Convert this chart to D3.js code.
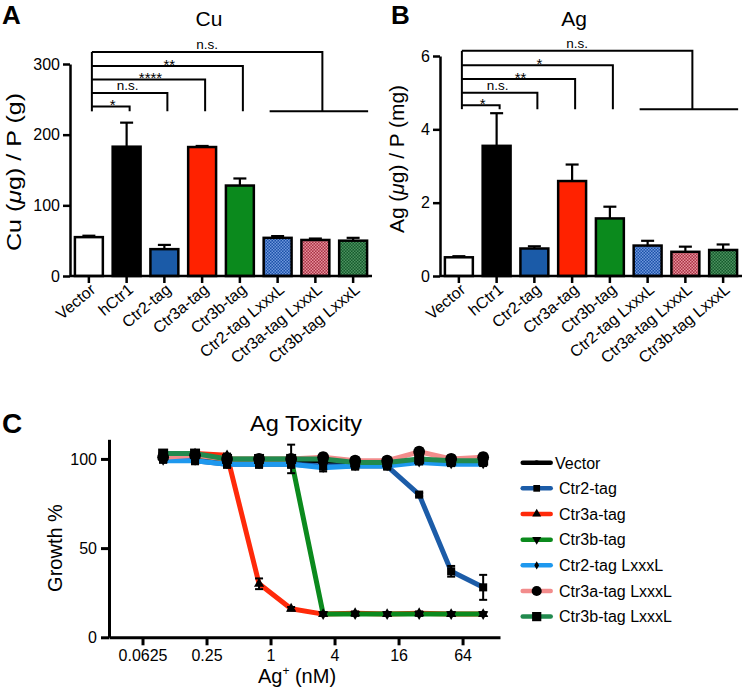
<!DOCTYPE html>
<html><head><meta charset="utf-8">
<script src="https://cdn.jsdelivr.net/npm/d3@7"></script>
<style>
body{margin:0;background:#fff}
text{font-family:"Liberation Sans",Arial,Helvetica,sans-serif;fill:#000}
</style>
</head><body>
<svg id="chart" width="745" height="690"></svg>
<script>
// ---------------- DATA ----------------
const categories = ["Vector","hCtr1","Ctr2-tag","Ctr3a-tag","Ctr3b-tag","Ctr2-tag LxxxL","Ctr3a-tag LxxxL","Ctr3b-tag LxxxL"];
const cuMean = [55, 183, 38, 182.5, 128, 54, 51, 50];
const cuErr  = [2, 34, 6, 1.5, 10, 2.5, 2, 4];
const agMean = [0.51, 3.55, 0.75, 2.59, 1.57, 0.83, 0.66, 0.71];
const agErr  = [0.03, 0.89, 0.06, 0.45, 0.32, 0.13, 0.14, 0.15];
const cuTicks = [0, 100, 200, 300];
const agTicks = [0, 2, 4, 6];
const cuSigLabels = ["*", "n.s.", "****", "**", "n.s."];
const agSigLabels = ["*", "n.s.", "**", "*", "n.s."];
const cuSigLevels = [240, 259, 278, 297, 317];
const agSigLevels = [4.66, 5.0, 5.37, 5.75, 6.14];
const cuSigBase = 233;
const agSigBase = 4.55;

const agConc = [0.0977, 0.195, 0.39, 0.78, 1.5625, 3.125, 6.25, 12.5, 25, 50, 100];
const concTicks = [0.0625, 0.25, 1, 4, 16, 64];
const concTickLabels = ["0.0625", "0.25", "1", "4", "16", "64"];
const growthTicks = [0, 50, 100];
const toxNames = ["Vector","Ctr2-tag","Ctr3a-tag","Ctr3b-tag","Ctr2-tag LxxxL","Ctr3a-tag LxxxL","Ctr3b-tag LxxxL"];
const growthVector   = [100, 101, 98, 99, 99, 99, 97, 97, 99, 98, 99];
const growthCtr2     = [100, 99, 97, 97, 97, 96, 96, 96, 80, 37, 28];
const growthCtr3a    = [101, 103, 102, 30, 16, 13, 13.5, 13, 13.5, 13, 13];
const growthCtr3b    = [102, 102, 100, 100, 100, 13, 13, 13, 13, 13, 13];
const growthCtr2L    = [99, 99, 97, 97, 97, 95, 96, 96, 98, 97, 97];
const growthCtr3aL   = [101, 102, 100, 100, 100, 101, 99, 99, 104, 100, 101];
const growthCtr3bL   = [103, 103, 100, 100, 100, 100, 98, 98, 100, 99, 99];
const errVector  = [2, 2, 2, 2, 2, 2, 2, 2, 2, 2, 2];
const errCtr2    = [2, 2, 2, 2, 2, 2, 2, 2, 1, 3, 7];
const errCtr3a   = [1, 1, 1, 3, 1, 1, 1, 1, 1, 1, 1];
const errCtr3b   = [1, 1, 2, 2, 8, 1, 1, 1, 1, 1, 1];
const errCtr2L   = [1, 1, 1, 1, 1, 2, 1, 1, 1, 1, 1];
const errCtr3aL  = [2, 2, 2, 2, 2, 2, 2, 2, 2, 2, 2];
const errCtr3bL  = [2, 2, 2, 2, 2, 2, 2, 2, 2, 2, 2];
const growthData = [growthVector, growthCtr2, growthCtr3a, growthCtr3b, growthCtr2L, growthCtr3aL, growthCtr3bL];
const growthErr  = [errVector, errCtr2, errCtr3a, errCtr3b, errCtr2L, errCtr3aL, errCtr3bL];

// ---------------- STYLES ----------------
const barFill = ["#ffffff","#000000","#1b5ba8","#ff2200","#0b8a1d","url(#patBlue)","url(#patRed)","url(#patGreen)"];
const lineColors = ["#000000","#1c5ca8","#ff2a0a","#0b8a1d","#1e98ee","#f28c8c","#218a4e"];
const markerType = ["circle","square","triUp","triDown","diamond","circle","square"];
const markerSize = [45, 65, 45, 45, 30, 110, 100];
const legendSize = [18, 45, 35, 35, 20, 80, 85];

const svg = d3.select("#chart");
const defs = svg.append("defs");
function pattern(id, base, light) {
  const p = defs.append("pattern").attr("id", id).attr("width", 3).attr("height", 3)
    .attr("patternUnits", "userSpaceOnUse");
  p.append("rect").attr("width", 3).attr("height", 3).attr("fill", base);
  p.append("rect").attr("width", 1.5).attr("height", 1.5).attr("fill", light);
  p.append("rect").attr("x", 1.5).attr("y", 1.5).attr("width", 1.5).attr("height", 1.5).attr("fill", light);
}
pattern("patBlue", "#1a50a8", "#6f98dc");
pattern("patRed", "#a83245", "#e8929c");
pattern("patGreen", "#155a2c", "#4d9260");

function styleAxis(g, w) {
  g.select(".domain").attr("stroke", "#000").attr("stroke-width", w);
  g.selectAll(".tick line").attr("stroke", "#000").attr("stroke-width", w);
}

function barPanel(cfg) {
  const g = svg.append("g");
  const x = d3.scaleBand().domain(categories).range([cfg.x0, cfg.x1]).paddingInner(0.26).paddingOuter(0.13);
  const y = d3.scaleLinear().domain([0, cfg.max]).range([276, cfg.yTop]);
  const cx = i => x(categories[i]) + x.bandwidth() / 2;

  // error bars (upper only)
  g.selectAll("line.err").data(categories).join("line")
    .attr("x1", (d, i) => cx(i)).attr("x2", (d, i) => cx(i))
    .attr("y1", (d, i) => y(cfg.mean[i])).attr("y2", (d, i) => y(cfg.mean[i] + cfg.err[i]))
    .attr("stroke", "#000").attr("stroke-width", 2.2);
  g.selectAll("line.cap").data(categories).join("line")
    .attr("x1", (d, i) => cx(i) - 6.5).attr("x2", (d, i) => cx(i) + 6.5)
    .attr("y1", (d, i) => y(cfg.mean[i] + cfg.err[i])).attr("y2", (d, i) => y(cfg.mean[i] + cfg.err[i]))
    .attr("stroke", "#000").attr("stroke-width", 2.2);
  // bars
  g.selectAll("rect.bar").data(categories).join("rect")
    .attr("x", d => x(d)).attr("width", x.bandwidth())
    .attr("y", (d, i) => y(cfg.mean[i])).attr("height", (d, i) => y(0) - y(cfg.mean[i]))
    .attr("fill", (d, i) => barFill[i]).attr("stroke", "#000").attr("stroke-width", 2.5);

  // axes
  const ya = g.append("g").attr("transform", `translate(${cfg.x0},0)`)
    .call(d3.axisLeft(y).tickValues(cfg.ticks).tickFormat(d3.format("d")).tickSize(7).tickSizeOuter(0).tickPadding(3));
  styleAxis(ya, 2.5);
  ya.selectAll("text").attr("font-size", 16).attr("font-family", "Liberation Sans, Arial, sans-serif");
  const xa = g.append("g").attr("transform", `translate(0,276)`)
    .call(d3.axisBottom(x).tickSize(7).tickSizeOuter(0));
  styleAxis(xa, 2.5);
  xa.select(".domain").attr("d", `M${cfg.x0},0H${cfg.x1}`);
  xa.selectAll("text").remove();
  g.selectAll("text.xl").data(categories).join("text")
    .attr("transform", (d, i) => `translate(${cx(i) + 4},287) rotate(-40)`)
    .attr("text-anchor", "end").attr("dy", "0.35em").attr("font-size", 16).text(d => d);

  // significance brackets
  const sx = cx(0) + 3;
  const base = y(cfg.sigBase);
  const lv = cfg.sigLevels.map(v => y(v));
  const br = g.append("g").attr("fill", "none").attr("stroke", "#000").attr("stroke-width", 2);
  br.append("path").attr("d", `M${sx},${base}V${lv[4]}`);
  for (let k = 0; k < 4; k++) {
    const ex = cx(k + 1) + 3;
    br.append("path").attr("d", `M${sx},${lv[k]}H${ex}V${base}`);
    const t = cfg.sigLabels[k];
    const star = t.includes("*");
    const shift = star ? 2 : -2;
    g.append("text").attr("x", (sx + ex) / 2 + shift).attr("y", star ? lv[k] + 3.5 : lv[k] - 2.5)
      .attr("text-anchor", "middle").attr("font-size", star ? 15 : 13.5).text(t);
  }
  const vx = cx(6) + 7;
  br.append("path").attr("d", `M${sx},${lv[4]}H${vx}V${base}`);
  br.append("path").attr("d", `M${cx(5) - 8},${base}H${cx(7) + 15}`);
  g.append("text").attr("x", (sx + vx) / 2).attr("y", lv[4] - 2.5)
    .attr("text-anchor", "middle").attr("font-size", 13.5).text(cfg.sigLabels[4]);

  // titles
  g.append("text").attr("x", cfg.titleX).attr("y", 25.5).attr("text-anchor", "middle")
    .attr("font-size", 21).text(cfg.title);
  g.append("text").attr("x", cfg.letterX).attr("y", 23.5).attr("font-size", 26)
    .attr("font-weight", "bold").text(cfg.letter);
  const yl = g.append("text").attr("transform", `translate(${cfg.ylabX},${cfg.ylabY}) rotate(-90)`)
    .attr("text-anchor", "middle").attr("font-size", 20)
    .attr("textLength", cfg.ylabLen).attr("lengthAdjust", "spacingAndGlyphs");
  yl.append("tspan").text(cfg.ylab[0]);
  yl.append("tspan").attr("font-style", "italic").text("\u03bc");
  yl.append("tspan").text(cfg.ylab[1]);
}

barPanel({x0: 70, x1: 372, yTop: 64, max: 300, ticks: cuTicks, mean: cuMean, err: cuErr,
  sigLabels: cuSigLabels, sigLevels: cuSigLevels, sigBase: cuSigBase,
  title: "Cu", titleX: 209, letter: "A", letterX: 2, ylab: ["Cu (", "g) / P (g)"],
  ylabX: 21, ylabY: 172, ylabLen: 158});
barPanel({x0: 440, x1: 742, yTop: 56, max: 6, ticks: agTicks, mean: agMean, err: agErr,
  sigLabels: agSigLabels, sigLevels: agSigLevels, sigBase: agSigBase,
  title: "Ag", titleX: 574, letter: "B", letterX: 391, ylab: ["Ag (", "g) / P (mg)"],
  ylabX: 404, ylabY: 159, ylabLen: 148});

// ---------------- PANEL C ----------------
const gc = svg.append("g");
const xC = d3.scaleLog().base(2).domain([Math.pow(2, -5.047), Math.pow(2, 7.17)]).range([109, 500]);
const yC = d3.scaleLinear().domain([0, 111]).range([637.3, 439.3]);

function sym(type, size) {
  if (type === "circle") return d3.symbol(d3.symbolCircle, size)();
  if (type === "square") return d3.symbol(d3.symbolSquare, size)();
  if (type === "diamond") return d3.symbol(d3.symbolDiamond, size)();
  return d3.symbol(d3.symbolTriangle, size)();
}
const line = d3.line().x((d, i) => xC(agConc[i])).y(d => yC(d));

growthData.forEach((s, k) => {
  gc.append("path").attr("d", line(s)).attr("fill", "none").attr("stroke", lineColors[k])
    .attr("stroke-width", 5).attr("stroke-linejoin", "round");
});
growthData.forEach((s, k) => {
  const eg = gc.append("g").attr("stroke", "#000").attr("stroke-width", 2);
  s.forEach((v, i) => {
    const e = growthErr[k][i], px = xC(agConc[i]);
    eg.append("line").attr("x1", px).attr("x2", px).attr("y1", yC(v - e)).attr("y2", yC(v + e));
    eg.append("line").attr("x1", px - 4).attr("x2", px + 4).attr("y1", yC(v - e)).attr("y2", yC(v - e));
    eg.append("line").attr("x1", px - 4).attr("x2", px + 4).attr("y1", yC(v + e)).attr("y2", yC(v + e));
  });
  gc.selectAll(null).data(s).join("path")
    .attr("d", sym(markerType[k], markerSize[k]))
    .attr("transform", (d, i) => `translate(${xC(agConc[i])},${yC(d)})${markerType[k] === "triDown" ? " rotate(180)" : ""}`)
    .attr("fill", "#000");
});

const yaC = gc.append("g").attr("transform", "translate(109,0)")
  .call(d3.axisLeft(yC).tickValues(growthTicks).tickSize(8).tickSizeOuter(0).tickPadding(4));
styleAxis(yaC, 3);
yaC.selectAll("text").attr("font-size", 16);
const xaC = gc.append("g").attr("transform", "translate(0,637.3)")
  .call(d3.axisBottom(xC).tickValues(concTicks).tickFormat((d, i) => concTickLabels[i]).tickSize(8).tickSizeOuter(0).tickPadding(4));
styleAxis(xaC, 3);
xaC.selectAll("text").attr("font-size", 16);

gc.append("text").attr("transform", "translate(62,548) rotate(-90)").attr("text-anchor", "middle")
  .attr("font-size", 20).text("Growth %");
const xl = gc.append("text").attr("x", 297).attr("y", 683).attr("text-anchor", "middle").attr("font-size", 20);
xl.append("tspan").text("Ag");
xl.append("tspan").attr("font-size", 12).attr("dy", -8).text("+");
xl.append("tspan").attr("dy", 8).text(" (nM)");
gc.append("text").attr("x", 306).attr("y", 431).attr("text-anchor", "middle").attr("font-size", 22)
  .attr("textLength", 112).attr("lengthAdjust", "spacingAndGlyphs").text("Ag Toxicity");
gc.append("text").attr("x", 2).attr("y", 433).attr("font-size", 28).attr("font-weight", "bold").text("C");

// legend
const lg = svg.append("g");
toxNames.forEach((n, k) => {
  const ly = 462.7 + k * 25.65;
  lg.append("line").attr("x1", 522.7).attr("x2", 550.7).attr("y1", ly).attr("y2", ly)
    .attr("stroke", lineColors[k]).attr("stroke-width", 4.5).attr("stroke-linecap", "round");
  lg.append("path").attr("d", sym(markerType[k], legendSize[k]))
    .attr("transform", `translate(536.7,${ly})${markerType[k] === "triDown" ? " rotate(180)" : ""}`).attr("fill", "#000");
  lg.append("text").attr("x", k === 0 ? 555 : 559).attr("y", ly + 5.8).attr("font-size", 16).text(n);
});
</script>
</body></html>
